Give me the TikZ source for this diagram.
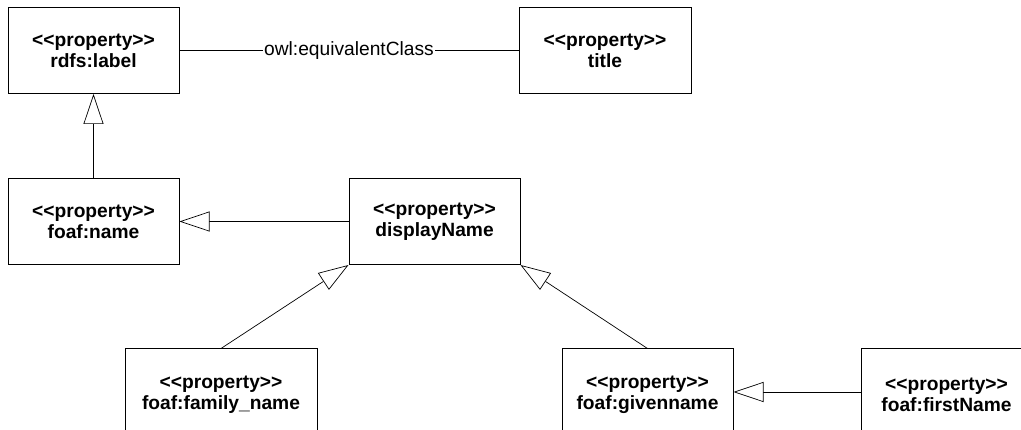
\documentclass[tikz,border=0pt]{standalone}
\usepackage{fontspec}
\setmainfont{Liberation Sans}
\usetikzlibrary{arrows.meta}
% stereotype marker, kept apart so << and >> are not turned into guillemets
\newcommand{\stereo}[1]{<{}<#1>{}>}
\begin{document}
\begin{tikzpicture}[x=1pt,y=-1pt,
  prop/.style={draw=black, line width=1pt, rectangle, minimum height=86pt,
    inner sep=0pt, align=center, font=\fontsize{19.2}{21}\selectfont\bfseries},
  low/.style={minimum height=92pt},
  conn/.style={draw=black, line width=0.7pt},
  gen/.style={conn, -{Triangle[open, length=30pt, width=20pt, fill=white]}},
  lbl/.style={fill=white, inner sep=1pt, font=\fontsize{19.2}{21}\selectfont}]
  \useasboundingbox (0,0) rectangle (1021,430);
  \clip (0,0) rectangle (1021,430);
  % property boxes
  \node[prop, minimum width=171pt] (rdfs)    at (93.5,50.5)  {\stereo{property}\\rdfs:label};
  \node[prop, minimum width=172pt] (title)   at (605,50.5)   {\stereo{property}\\title};
  \node[prop, minimum width=171pt] (fname)   at (93.5,221.5) {\stereo{property}\\foaf:name};
  \node[prop, minimum width=171pt] (display) at (434.5,221.5){\stereo{property}\\displayName};
  \node[prop, low, minimum width=192pt] (family) at (221,395)   {\stereo{property}\\foaf:family\_name};
  \node[prop, low, minimum width=171pt] (given)  at (647.5,395) {\stereo{property}\\foaf:givenname};
  \node[prop, low, minimum width=171pt] (first)  at (946.5,395) {\stereo{property}\\foaf:firstName};
  % equivalence
  \draw[conn] (rdfs) -- node[lbl] {owl:equivalentClass} (title);
  % generalisations
  \draw[gen] (fname.north) -- (rdfs.south);
  \draw[gen] (display.west) -- (fname.east);
  \draw[gen] (family.north) -- (display.south west);
  \draw[gen] (given.north) -- (display.south east);
  \draw[gen] (first.west |- 0,392) -- (given.east |- 0,392);
\end{tikzpicture}
\end{document}
